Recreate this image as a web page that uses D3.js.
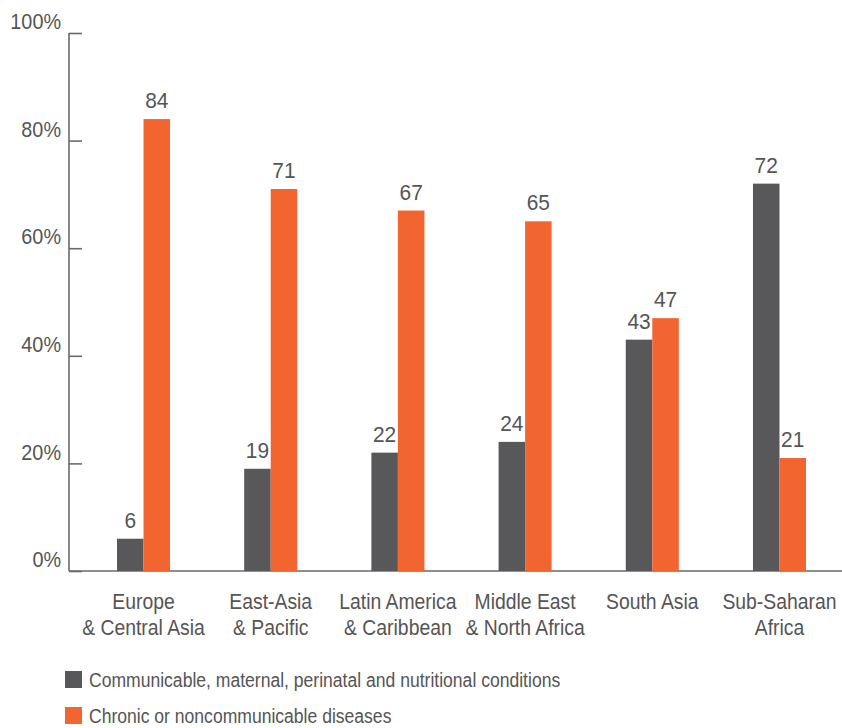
<!DOCTYPE html>
<html>
<head>
<meta charset="utf-8">
<script src="https://cdn.jsdelivr.net/npm/d3@7"></script>
<style>
  html, body { margin: 0; padding: 0; background: #fff; }
  svg text { font-family: 'Liberation Sans Narrow', 'Arial Narrow', 'Liberation Sans', sans-serif; }
</style>
</head>
<body>
<div id="chart"></div>
<script>
// Data
const regions = [
  ['Europe', '& Central Asia'],
  ['East-Asia', '& Pacific'],
  ['Latin America', '& Caribbean'],
  ['Middle East', '& North Africa'],
  ['South Asia'],
  ['Sub-Saharan', 'Africa'],
];
const communicable = [6, 19, 22, 24, 43, 72];
const chronic = [84, 71, 67, 65, 47, 21];
const seriesNames = [
  'Communicable, maternal, perinatal and nutritional conditions',
  'Chronic or noncommunicable diseases',
];
const yTicks = [0, 20, 40, 60, 80, 100];

const W = 842, H = 728;
const COL = { dark: '#58585a', orange: '#f26531', axis: '#6a6a6a', text: '#555555' };
const FS = 22, SQUEEZE = 0.9;

const svg = d3.select('#chart').append('svg')
  .attr('width', W).attr('height', H);

// squeeze text horizontally to mimic the condensed face of the original
function squeeze(sel, k) {
  sel.each(function () {
    const len = this.getComputedTextLength();
    d3.select(this).attr('textLength', len * k).attr('lengthAdjust', 'spacingAndGlyphs');
  });
}

const axisX = 69;
const y = d3.scaleLinear().domain([0, 100]).range([571, 33]);
const x = d3.scaleBand()
  .domain(regions.map((r, i) => i))
  .range([117, 806])
  .paddingInner(0.583)
  .paddingOuter(0);
const sub = d3.scaleBand().domain([0, 1]).range([0, x.bandwidth()]);

// y axis
const yAxis = d3.axisLeft(y).tickValues(yTicks).tickSize(0).tickFormat(d => d + '%');
const ya = svg.append('g').attr('transform', `translate(${axisX},0)`).call(yAxis);
ya.select('.domain').remove();
ya.selectAll('text')
  .attr('x', -8).attr('dy', '-0.2em')
  .attr('font-size', FS).attr('fill', COL.text);
squeeze(ya.selectAll('text'), SQUEEZE);
ya.selectAll('.tick').append('line')
  .attr('x1', 0).attr('x2', 13)
  .attr('stroke', COL.axis).attr('stroke-width', 1.6);
svg.append('line')
  .attr('x1', axisX).attr('x2', axisX)
  .attr('y1', y(100)).attr('y2', y(0))
  .attr('stroke', COL.axis).attr('stroke-width', 1.6);
svg.append('line')
  .attr('x1', axisX).attr('x2', W)
  .attr('y1', y(0)).attr('y2', y(0))
  .attr('stroke', COL.axis).attr('stroke-width', 1.6);

// bars
const series = [
  { values: communicable, color: COL.dark },
  { values: chronic, color: COL.orange },
];
series.forEach((s, si) => {
  const g = svg.append('g');
  g.selectAll('rect').data(s.values).enter().append('rect')
    .attr('x', (d, i) => x(i) + sub(si))
    .attr('y', d => y(d))
    .attr('width', sub.bandwidth())
    .attr('height', d => y(0) - y(d))
    .attr('fill', s.color);
  const labels = g.selectAll('text').data(s.values).enter().append('text')
    .attr('x', (d, i) => x(i) + sub(si) + sub.bandwidth() / 2)
    .attr('y', d => y(d) - 11)
    .attr('text-anchor', 'middle')
    .attr('font-size', FS)
    .attr('fill', COL.text)
    .text(d => d);
  squeeze(labels, 0.95);
});

// category labels
const cat = svg.append('g');
regions.forEach((lines, i) => {
  const cx = x(i) + x.bandwidth() / 2;
  const t = cat.append('text')
    .attr('x', cx)
    .attr('y', 609)
    .attr('text-anchor', 'middle')
    .attr('font-size', FS)
    .attr('fill', COL.text);
  lines.forEach((ln, j) => {
    t.append('tspan')
      .attr('x', cx)
      .attr('dy', j === 0 ? 0 : 26)
      .text(ln);
  });
});
squeeze(cat.selectAll('tspan'), 0.88);

// legend
const leg = svg.append('g').attr('transform', 'translate(65,671)');
seriesNames.forEach((name, i) => {
  const row = leg.append('g').attr('transform', `translate(0,${i * 36})`);
  row.append('rect').attr('width', 17).attr('height', 17).attr('fill', series[i].color);
  row.append('text')
    .attr('x', 24).attr('y', 16)
    .attr('font-size', 19.5)
    .attr('fill', COL.text)
    .text(name);
});
squeeze(leg.selectAll('text'), SQUEEZE);
</script>
</body>
</html>
